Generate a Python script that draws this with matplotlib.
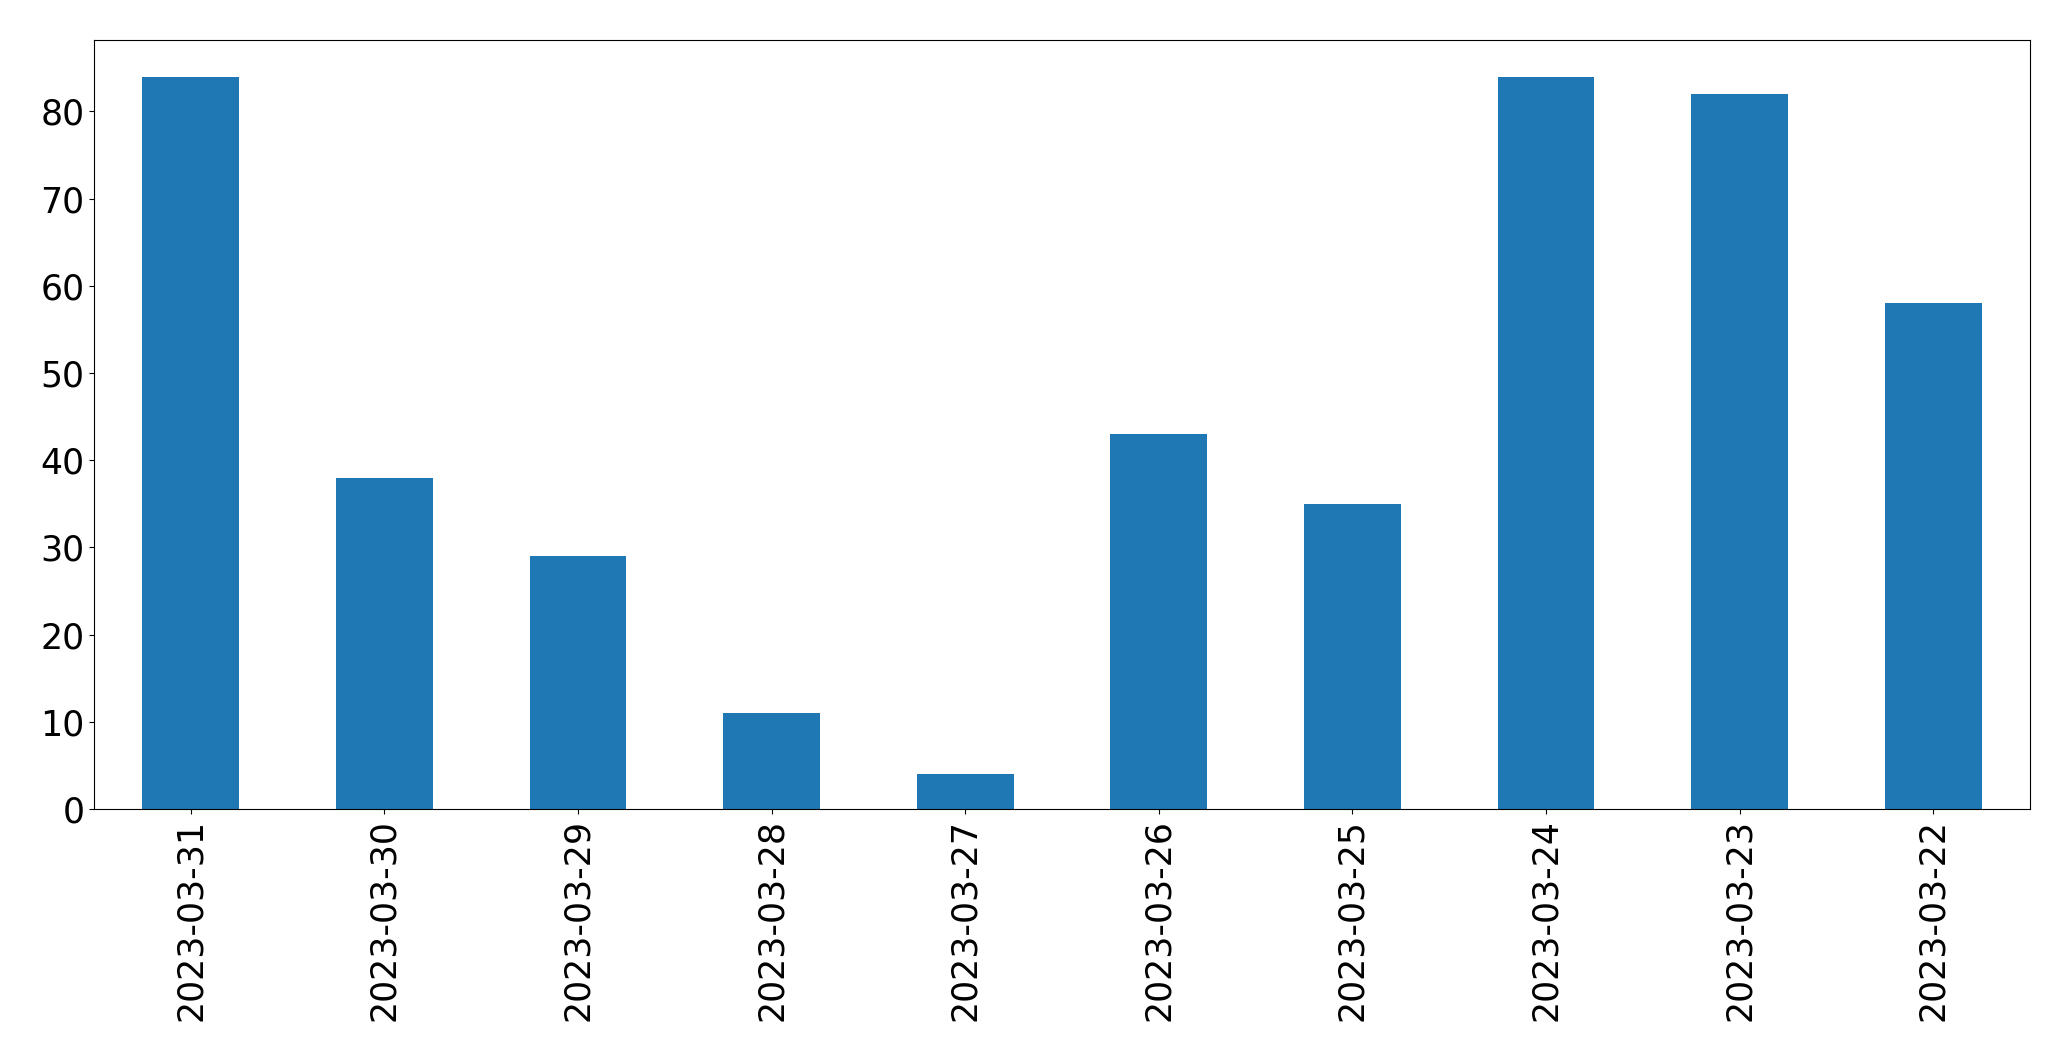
import matplotlib
matplotlib.use('Agg')
import matplotlib.pyplot as plt
import numpy as np

dates = ['2023-03-31', '2023-03-30', '2023-03-29', '2023-03-28', '2023-03-27',
         '2023-03-26', '2023-03-25', '2023-03-24', '2023-03-23', '2023-03-22']
counts = [84, 38, 29, 11, 4, 43, 35, 84, 82, 58]

fig = plt.figure(figsize=(20.71, 10.61), dpi=100)
ax = fig.add_axes([94/2071, 1 - 809/1061, (2030-94)/2071, (809-40)/1061])

x = np.arange(len(dates))
ax.bar(x, counts, width=0.5, color='#1f77b4')
ax.set_xlim(-0.5, len(dates) - 0.5)
ax.set_ylim(0, 88.2)
ax.set_xticks(x)
ax.set_xticklabels(dates, rotation=90)
ax.tick_params(labelsize=25)

fig.savefig('out.png', dpi=100)
